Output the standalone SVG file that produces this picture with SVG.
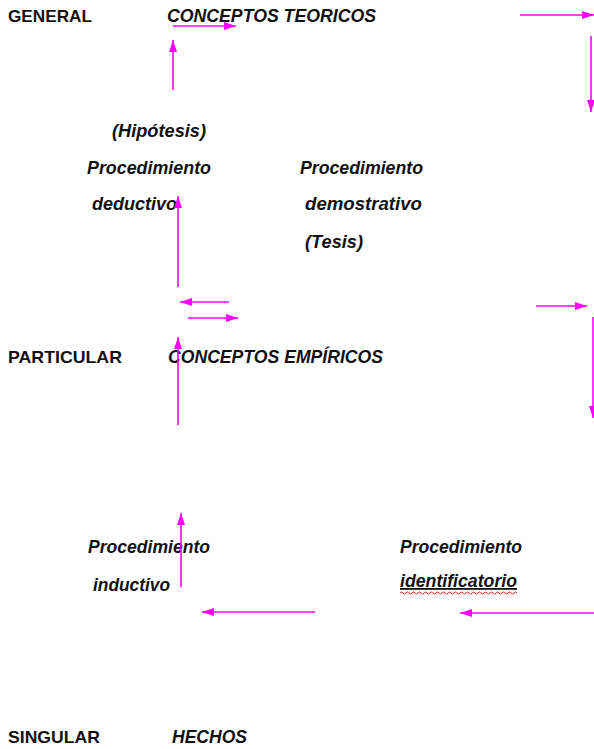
<svg xmlns="http://www.w3.org/2000/svg" width="594" height="749" viewBox="0 0 594 749">
<style>
.lvl{font-family:"Liberation Sans",Arial,sans-serif;font-weight:bold;font-size:17px;fill:#111}
.it{font-family:"Liberation Sans",Arial,sans-serif;font-weight:bold;font-style:italic;font-size:18px;fill:#111}
.con{stroke:#f0f;stroke-width:1.6;fill:none;marker-end:url(#ah)}
</style>
<defs>
<marker id="ah" viewBox="0 0 12 8" refX="12" refY="4" markerWidth="12" markerHeight="8" markerUnits="userSpaceOnUse" orient="auto">
<path d="M0,0 L12,4 L0,8 Z" fill="#f0f"/>
</marker>
</defs>
<rect width="594" height="749" fill="#fff"/>
<g id="general"><text class="lvl" x="8" y="22" textLength="84" lengthAdjust="spacingAndGlyphs">GENERAL</text></g>
<g id="teoricos"><text class="it" x="167" y="22" textLength="209" lengthAdjust="spacingAndGlyphs">CONCEPTOS TEORICOS</text></g>
<g id="hipotesis"><text class="it" x="112" y="137" textLength="94" lengthAdjust="spacingAndGlyphs">(Hipótesis)</text></g>
<g id="deductivo">
<text class="it" x="87" y="174" textLength="124" lengthAdjust="spacingAndGlyphs">Procedimiento</text>
<text class="it" x="92" y="210" textLength="85" lengthAdjust="spacingAndGlyphs">deductivo</text>
</g>
<g id="demostrativo">
<text class="it" x="300" y="174" textLength="123" lengthAdjust="spacingAndGlyphs">Procedimiento</text>
<text class="it" x="305" y="210" textLength="117" lengthAdjust="spacingAndGlyphs">demostrativo</text>
<text class="it" x="305" y="248" textLength="58" lengthAdjust="spacingAndGlyphs">(Tesis)</text>
</g>
<g id="particular"><text class="lvl" x="8" y="363" textLength="114" lengthAdjust="spacingAndGlyphs">PARTICULAR</text></g>
<g id="empiricos"><text class="it" x="168" y="363" textLength="215" lengthAdjust="spacingAndGlyphs">CONCEPTOS EMPÍRICOS</text></g>
<g id="inductivo">
<text class="it" x="88" y="553" textLength="122" lengthAdjust="spacingAndGlyphs">Procedimiento</text>
<text class="it" x="93" y="591" textLength="77" lengthAdjust="spacingAndGlyphs">inductivo</text>
</g>
<g id="identificatorio">
<text class="it" x="400" y="553" textLength="122" lengthAdjust="spacingAndGlyphs">Procedimiento</text>
<text class="it" x="400" y="587" textLength="117" lengthAdjust="spacingAndGlyphs" text-decoration="underline">identificatorio</text>
<path d="M400,593 q1.5,-2 3,0 t3,0 t3,0 t3,0 t3,0 t3,0 t3,0 t3,0 t3,0 t3,0 t3,0 t3,0 t3,0 t3,0 t3,0 t3,0 t3,0 t3,0 t3,0 t3,0 t3,0 t3,0 t3,0 t3,0 t3,0 t3,0 t3,0 t3,0 t3,0 t3,0 t3,0 t3,0 t3,0 t3,0 t3,0 t3,0 t3,0 t3,0 t3,0" stroke="#e02020" stroke-width="1" fill="none"/>
</g>
<g id="singular"><text class="lvl" x="8" y="743" textLength="92" lengthAdjust="spacingAndGlyphs">SINGULAR</text></g>
<g id="hechos"><text class="it" x="172" y="743" textLength="75" lengthAdjust="spacingAndGlyphs" font-weight="normal">HECHOS</text></g>
<g id="connectors">
<line class="con" x1="173" y1="26" x2="236" y2="26"/>
<line class="con" x1="173" y1="90" x2="173" y2="40"/>
<line class="con" x1="520" y1="15" x2="594" y2="15"/>
<line class="con" x1="591" y1="36" x2="591" y2="112"/>
<line class="con" x1="178" y1="287" x2="178" y2="196"/>
<line class="con" x1="229" y1="302" x2="180" y2="302"/>
<line class="con" x1="188" y1="318" x2="238" y2="318"/>
<line class="con" x1="178" y1="425" x2="178" y2="337"/>
<line class="con" x1="536" y1="306" x2="587" y2="306"/>
<line class="con" x1="593" y1="317" x2="593" y2="418"/>
<line class="con" x1="181" y1="587" x2="181" y2="513"/>
<line class="con" x1="315" y1="612" x2="202" y2="612"/>
<line class="con" x1="594" y1="613" x2="460" y2="613"/>
</g>
</svg>
